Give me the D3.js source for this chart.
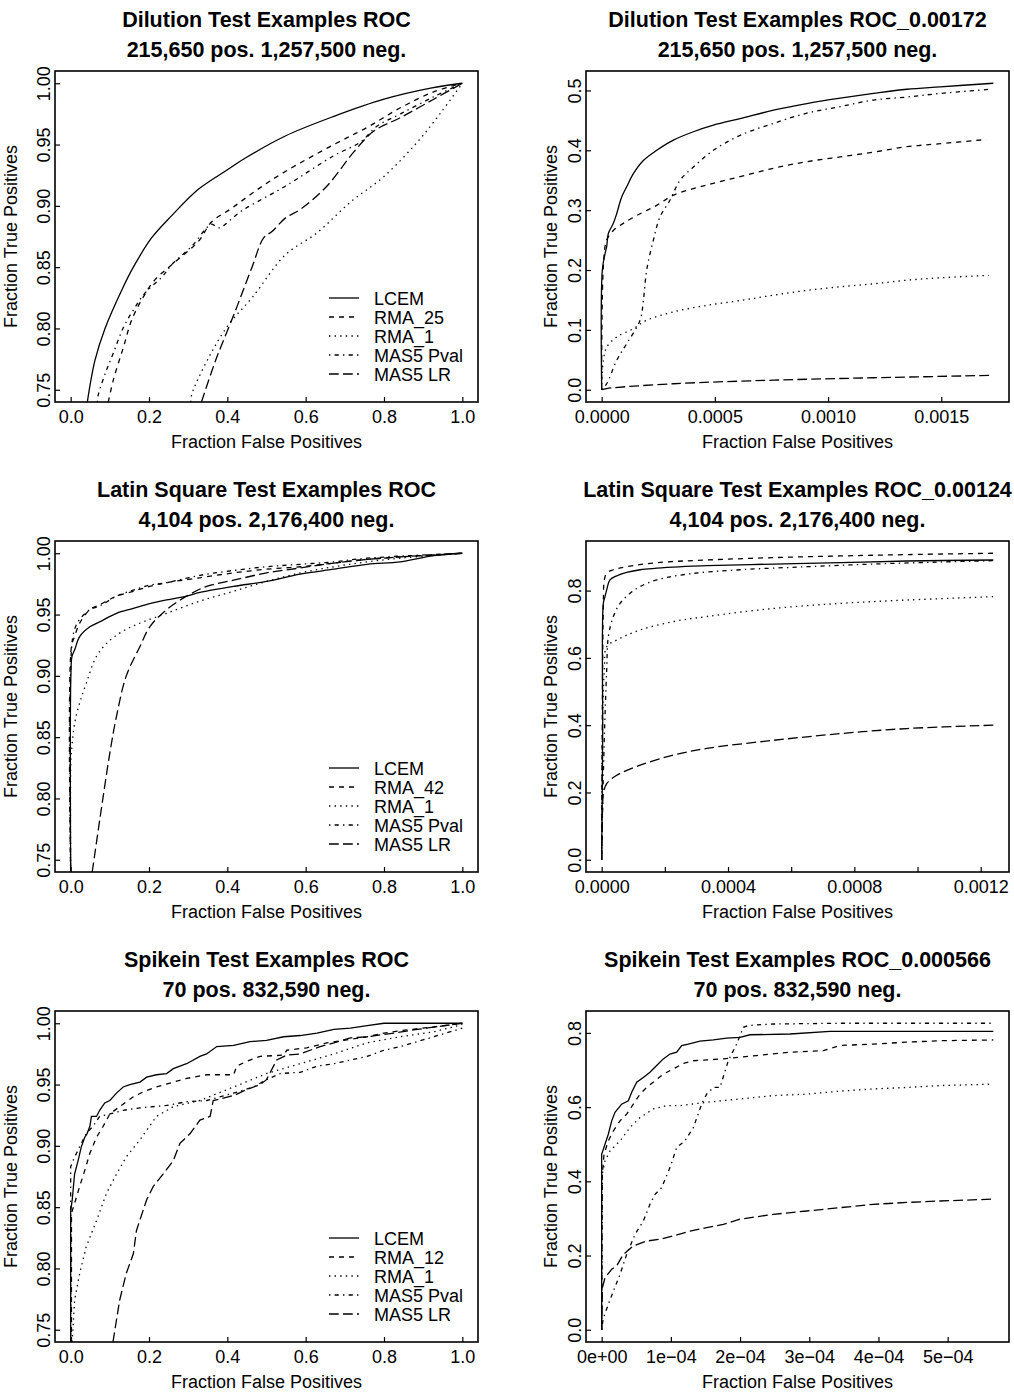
<!DOCTYPE html>
<html>
<head>
<meta charset="utf-8">
<script src="https://cdn.jsdelivr.net/npm/d3@7"></script>
<style>
  body { margin: 0; background: #fff; }
  svg { font-family: "Liberation Sans", Arial, Helvetica, sans-serif; }
</style>
</head>
<body>
<div id="chart"></div>
<script>
// ---- data: [false positive fraction, true positive fraction] ----

// Dilution, full range
var dilLCEM = [[0.0425,0.74],[0.062,0.774],[0.0877,0.80],[0.13,0.831],[0.16,0.85],[0.207,0.874],[0.258,0.892],[0.326,0.9135],[0.403,0.93],[0.446,0.939],[0.548,0.957],[0.672,0.973],[0.80,0.987],[0.919,0.996],[1,1]];
var dilRMA = [[0.096,0.74],[0.109,0.758],[0.135,0.785],[0.156,0.807],[0.186,0.826],[0.216,0.84],[0.258,0.852],[0.326,0.871],[0.36,0.887],[0.411,0.898],[0.471,0.912],[0.548,0.928],[0.672,0.95],[0.757,0.964],[0.842,0.98],[0.927,0.993],[1,1]];
var dilRMA1 = [[0.307,0.74],[0.309,0.746],[0.352,0.776],[0.403,0.803],[0.463,0.825],[0.548,0.86],[0.629,0.878],[0.714,0.903],[0.8,0.924],[0.885,0.952],[0.945,0.976],[1,1]];
var dilPval = [[0.068,0.74],[0.0706,0.746],[0.088,0.763],[0.109,0.78],[0.135,0.801],[0.16,0.815],[0.19,0.829],[0.233,0.842],[0.258,0.852],[0.309,0.867],[0.36,0.885],[0.377,0.882],[0.437,0.896],[0.548,0.916],[0.672,0.941],[0.74,0.952],[0.782,0.965],[0.842,0.975],[0.927,0.989],[1,1]];
var dilLR = [[0.334,0.74],[0.369,0.773],[0.42,0.814],[0.463,0.85],[0.493,0.874],[0.514,0.879],[0.548,0.89],[0.586,0.897],[0.654,0.916],[0.723,0.944],[0.774,0.961],[0.842,0.972],[0.927,0.987],[1,1]];

// Dilution, up to 0.00172
var dilzLCEM = [[0,0],[2.9e-6,0.20],[1.47e-5,0.227],[2.21e-5,0.239],[2.95e-5,0.261],[5.16e-5,0.278],[6.63e-5,0.294],[8.84e-5,0.322],[1.105e-4,0.339],[1.4e-4,0.361],[1.842e-4,0.383],[2.431e-4,0.40],[3.168e-4,0.417],[4.052e-4,0.431],[4.936e-4,0.442],[6.115e-4,0.453],[7.589e-4,0.467],[9.062e-4,0.478],[1.0536e-3,0.487],[1.2009e-3,0.495],[1.3483e-3,0.502],[1.4956e-3,0.506],[1.73e-3,0.512]];
var dilzRMA = [[0,0],[7.4e-6,0.205],[2.21e-5,0.25],[5.16e-5,0.266],[9.58e-5,0.278],[1.695e-4,0.294],[2.431e-4,0.308],[3.168e-4,0.325],[4.642e-4,0.342],[6.115e-4,0.356],[7.589e-4,0.37],[9.062e-4,0.381],[1.0536e-3,0.389],[1.2009e-3,0.397],[1.3483e-3,0.406],[1.4956e-3,0.411],[1.70e-3,0.418]];
var dilzRMA1 = [[0,0],[7.4e-6,0.049],[2.21e-5,0.071],[6.63e-5,0.088],[1.4e-4,0.102],[1.989e-4,0.116],[3.168e-4,0.13],[4.642e-4,0.141],[6.115e-4,0.149],[7.589e-4,0.158],[9.062e-4,0.166],[1.0536e-3,0.172],[1.2009e-3,0.177],[1.3483e-3,0.183],[1.4956e-3,0.187],[1.71e-3,0.191]];
var dilzPval = [[0,0],[2.21e-5,0.01],[6.63e-5,0.049],[1.105e-4,0.077],[1.695e-4,0.116],[1.842e-4,0.149],[1.989e-4,0.2],[2.284e-4,0.25],[2.579e-4,0.289],[3.021e-4,0.317],[3.463e-4,0.35],[4.052e-4,0.372],[4.936e-4,0.40],[6.115e-4,0.425],[7.589e-4,0.445],[9.062e-4,0.462],[1.0536e-3,0.473],[1.2009e-3,0.484],[1.3483e-3,0.489],[1.4956e-3,0.495],[1.72e-3,0.502]];
var dilzLR = [[0,0],[2.21e-5,0.002],[3.168e-4,0.01],[7.589e-4,0.016],[1.2009e-3,0.02],[1.73e-3,0.024]];

// Latin square, full range
var latLCEM = [[0,0.74],[0.0005,0.90],[0.0034,0.916],[0.01,0.921],[0.023,0.932],[0.049,0.94],[0.074,0.944],[0.117,0.951],[0.16,0.955],[0.202,0.959],[0.245,0.962],[0.296,0.965],[0.33,0.968],[0.416,0.973],[0.5,0.977],[0.586,0.983],[0.672,0.987],[0.757,0.991],[0.842,0.993],[0.927,0.998],[1,1]];
var latRMA = [[0,0.74],[0.002,0.924],[0.01,0.932],[0.023,0.943],[0.049,0.954],[0.074,0.958],[0.117,0.965],[0.16,0.969],[0.202,0.973],[0.245,0.976],[0.33,0.98],[0.416,0.984],[0.5,0.987],[0.586,0.989],[0.672,0.992],[0.757,0.995],[0.842,0.997],[1,1]];
var latRMA1 = [[0,0.74],[0.0005,0.83],[0.004,0.845],[0.01,0.861],[0.023,0.878],[0.04,0.894],[0.066,0.916],[0.1,0.929],[0.142,0.938],[0.185,0.944],[0.245,0.951],[0.33,0.961],[0.416,0.969],[0.5,0.977],[0.586,0.984],[0.672,0.989],[0.757,0.993],[0.842,0.996],[1,1]];
var latPval = [[0,0.74],[0.002,0.921],[0.01,0.938],[0.023,0.946],[0.049,0.954],[0.074,0.957],[0.117,0.965],[0.16,0.97],[0.202,0.974],[0.245,0.976],[0.33,0.982],[0.416,0.986],[0.5,0.989],[0.586,0.991],[0.672,0.993],[0.757,0.996],[1,1]];
var latLR = [[0.055,0.74],[0.074,0.782],[0.1,0.837],[0.117,0.867],[0.142,0.9],[0.177,0.924],[0.202,0.94],[0.245,0.954],[0.296,0.965],[0.347,0.973],[0.416,0.978],[0.5,0.984],[0.586,0.988],[0.672,0.992],[0.757,0.995],[0.842,0.997],[1,1]];

// Latin square, up to 0.00124
var latzLCEM = [[0,0],[3.2e-6,0.365],[5.3e-6,0.762],[1.06e-5,0.782],[1.59e-5,0.802],[2.64e-5,0.832],[4.76e-5,0.844],[7.93e-5,0.854],[1.216e-4,0.862],[2.273e-4,0.87],[3.33e-4,0.874],[5.445e-4,0.879],[7.56e-4,0.883],[9.674e-4,0.888],[1.24e-3,0.891]];
var latzRMA = [[0,0],[5.3e-6,0.762],[8.5e-6,0.832],[1.59e-5,0.852],[3.7e-5,0.862],[7.93e-5,0.871],[1.745e-4,0.883],[3.33e-4,0.891],[5.445e-4,0.898],[7.56e-4,0.903],[9.674e-4,0.907],[1.24e-3,0.911]];
var latzRMA1 = [[0,0],[2.1e-6,0.365],[8.5e-6,0.564],[1.59e-5,0.633],[4.76e-5,0.653],[1.216e-4,0.683],[2.273e-4,0.708],[3.33e-4,0.723],[5.445e-4,0.747],[7.56e-4,0.762],[9.674e-4,0.772],[1.24e-3,0.782]];
var latzPval = [[0,0],[3.2e-6,0.167],[8.5e-6,0.365],[1.59e-5,0.564],[2.11e-5,0.663],[3.7e-5,0.723],[5.82e-5,0.762],[8.99e-5,0.792],[1.216e-4,0.812],[1.745e-4,0.832],[2.802e-4,0.85],[4.388e-4,0.862],[6.502e-4,0.871],[8.617e-4,0.879],[1.0732e-3,0.885],[1.24e-3,0.889]];
var latzLR = [[0,0],[3.2e-6,0.167],[5.3e-6,0.197],[1.59e-5,0.226],[4.76e-5,0.251],[1.216e-4,0.281],[2.273e-4,0.311],[3.33e-4,0.331],[5.445e-4,0.355],[7.56e-4,0.375],[9.674e-4,0.39],[1.24e-3,0.40]];

// Spikein, full range
var spkLCEM = [[0,0.74],[0,0.847],[0.004,0.856],[0.01,0.877],[0.019,0.888],[0.027,0.899],[0.036,0.907],[0.042,0.91],[0.049,0.916],[0.053,0.924],[0.066,0.924],[0.074,0.929],[0.087,0.935],[0.1,0.937],[0.117,0.943],[0.134,0.948],[0.151,0.95],[0.177,0.952],[0.194,0.956],[0.219,0.958],[0.245,0.959],[0.262,0.963],[0.296,0.967],[0.33,0.973],[0.347,0.975],[0.373,0.981],[0.416,0.982],[0.458,0.985],[0.5,0.986],[0.544,0.989],[0.586,0.99],[0.629,0.992],[0.672,0.995],[0.714,0.996],[0.757,0.998],[0.8,1],[1,1]];
var spkRMA = [[0.002,0.74],[0.002,0.845],[0.01,0.853],[0.023,0.867],[0.036,0.88],[0.049,0.894],[0.066,0.907],[0.083,0.916],[0.1,0.926],[0.125,0.932],[0.16,0.94],[0.185,0.944],[0.219,0.948],[0.262,0.952],[0.296,0.955],[0.347,0.958],[0.416,0.958],[0.424,0.965],[0.45,0.969],[0.484,0.973],[0.544,0.974],[0.552,0.978],[0.603,0.98],[0.654,0.984],[0.697,0.986],[0.757,0.989],[0.8,0.992],[0.842,0.994],[0.927,0.997],[1,1]];
var spkRMA1 = [[0.004,0.74],[0.01,0.774],[0.023,0.796],[0.04,0.818],[0.066,0.839],[0.091,0.861],[0.117,0.877],[0.142,0.891],[0.177,0.905],[0.219,0.924],[0.262,0.932],[0.33,0.937],[0.416,0.948],[0.5,0.959],[0.586,0.967],[0.672,0.975],[0.757,0.984],[0.842,0.989],[0.927,0.993],[1,0.999]];
var spkPval = [[0,0.74],[0,0.883],[0.006,0.888],[0.015,0.894],[0.027,0.902],[0.04,0.91],[0.057,0.916],[0.074,0.924],[0.1,0.926],[0.134,0.929],[0.177,0.931],[0.245,0.933],[0.296,0.936],[0.347,0.937],[0.416,0.943],[0.467,0.948],[0.5,0.954],[0.535,0.959],[0.586,0.96],[0.629,0.965],[0.672,0.967],[0.714,0.97],[0.757,0.973],[0.8,0.978],[0.842,0.981],[0.885,0.985],[0.927,0.989],[1,0.996]];
var spkLR = [[0.108,0.74],[0.125,0.774],[0.142,0.796],[0.16,0.812],[0.168,0.831],[0.194,0.856],[0.211,0.867],[0.236,0.877],[0.262,0.888],[0.279,0.902],[0.305,0.91],[0.33,0.921],[0.356,0.924],[0.364,0.937],[0.416,0.941],[0.45,0.946],[0.484,0.95],[0.5,0.954],[0.526,0.97],[0.552,0.974],[0.586,0.975],[0.637,0.981],[0.672,0.984],[0.714,0.988],[0.757,0.989],[0.825,0.992],[0.885,0.995],[1,1]];

// Spikein, up to 0.000566
var spkzLCEM = [[0,0],[0,0.473],[4.8e-6,0.5],[9.6e-6,0.527],[1.45e-5,0.563],[1.93e-5,0.586],[2.89e-5,0.608],[3.85e-5,0.617],[4.34e-5,0.64],[5.06e-5,0.667],[6.02e-5,0.68],[6.98e-5,0.694],[7.95e-5,0.712],[8.91e-5,0.73],[9.87e-5,0.743],[1.084e-4,0.748],[1.156e-4,0.766],[1.252e-4,0.77],[1.421e-4,0.778],[1.614e-4,0.781],[1.806e-4,0.786],[1.999e-4,0.788],[2.144e-4,0.795],[2.722e-4,0.797],[3.3e-4,0.804],[5.66e-4,0.804]];
var spkzRMA = [[0,0],[1e-6,0.42],[3.4e-6,0.473],[9.6e-6,0.509],[1.69e-5,0.536],[2.65e-5,0.563],[3.61e-5,0.581],[4.58e-5,0.608],[5.54e-5,0.635],[6.5e-5,0.653],[7.71e-5,0.671],[8.91e-5,0.689],[1.036e-4,0.703],[1.18e-4,0.718],[1.325e-4,0.725],[1.758e-4,0.73],[2.24e-4,0.739],[2.722e-4,0.748],[3.203e-4,0.752],[3.444e-4,0.766],[3.926e-4,0.77],[4.408e-4,0.775],[4.889e-4,0.779],[5.66e-4,0.781]];
var spkzRMA1 = [[0,0],[1e-6,0.42],[4.8e-6,0.455],[1.2e-5,0.482],[2.65e-5,0.509],[4.09e-5,0.545],[5.54e-5,0.572],[7.47e-5,0.595],[9.39e-5,0.604],[1.132e-4,0.604],[1.517e-4,0.613],[1.999e-4,0.622],[2.481e-4,0.631],[2.962e-4,0.635],[3.444e-4,0.643],[3.926e-4,0.649],[4.408e-4,0.653],[4.889e-4,0.658],[5.66e-4,0.662]];
var spkzPval = [[0,0],[2.4e-6,0.032],[9.6e-6,0.068],[1.69e-5,0.104],[2.65e-5,0.149],[3.61e-5,0.203],[4.82e-5,0.257],[6.02e-5,0.293],[6.98e-5,0.338],[7.71e-5,0.365],[8.67e-5,0.383],[9.87e-5,0.437],[1.084e-4,0.491],[1.204e-4,0.509],[1.325e-4,0.545],[1.445e-4,0.608],[1.517e-4,0.635],[1.614e-4,0.653],[1.71e-4,0.653],[1.83e-4,0.725],[1.951e-4,0.77],[2.047e-4,0.815],[2.119e-4,0.82],[2.481e-4,0.824],[3.444e-4,0.826],[5.66e-4,0.826]];
var spkzLR = [[0,0],[1e-6,0.113],[4.8e-6,0.14],[1.45e-5,0.163],[2.17e-5,0.172],[3.13e-5,0.203],[4.58e-5,0.226],[6.5e-5,0.239],[8.43e-5,0.244],[1.036e-4,0.253],[1.277e-4,0.266],[1.517e-4,0.275],[1.758e-4,0.284],[1.999e-4,0.298],[2.481e-4,0.311],[2.962e-4,0.32],[3.444e-4,0.329],[3.926e-4,0.338],[4.408e-4,0.343],[4.889e-4,0.347],[5.66e-4,0.352]];

// ---- titles, legend labels, axis limits and ticks ----
var titles = [
  ["Dilution Test Examples ROC", "215,650 pos. 1,257,500 neg."],
  ["Dilution Test Examples ROC_0.00172", "215,650 pos. 1,257,500 neg."],
  ["Latin Square Test Examples ROC", "4,104 pos. 2,176,400 neg."],
  ["Latin Square Test Examples ROC_0.00124", "4,104 pos. 2,176,400 neg."],
  ["Spikein Test Examples ROC", "70 pos. 832,590 neg."],
  ["Spikein Test Examples ROC_0.000566", "70 pos. 832,590 neg."]
];
var legendDil = ["LCEM", "RMA_25", "RMA_1", "MAS5 Pval", "MAS5 LR"];
var legendLat = ["LCEM", "RMA_42", "RMA_1", "MAS5 Pval", "MAS5 LR"];
var legendSpk = ["LCEM", "RMA_12", "RMA_1", "MAS5 Pval", "MAS5 LR"];

var xlimFull = [0, 1], ylimFull = [0.75, 1];
var xlimDilz = [0, 0.00173], ylimDilz = [0, 0.512];
var xlimLatz = [0, 0.00124], ylimLatz = [0, 0.911];
var xlimSpkz = [0, 0.000566], ylimSpkz = [0, 0.826];

var xticksFull = [0, 0.2, 0.4, 0.6, 0.8, 1.0];
var yticksFull = [0.75, 0.80, 0.85, 0.90, 0.95, 1.00];
var xticksDilz = [0, 0.0005, 0.0010, 0.0015];
var yticksDilz = [0, 0.1, 0.2, 0.3, 0.4, 0.5];
var xticksLatz = [0, 0.0002, 0.0004, 0.0006, 0.0008, 0.0010, 0.0012];
var xlabelsLatz = ["0.0000", "", "0.0004", "", "0.0008", "", "0.0012"];
var yticksZoom = [0, 0.2, 0.4, 0.6, 0.8];
var xticksSpkz = [0, 1e-4, 2e-4, 3e-4, 4e-4, 5e-4];
var xlabelsSpkz = ["0e+00", "1e\u221204", "2e\u221204", "3e\u221204", "4e\u221204", "5e\u221204"];

// line types as in R: solid, dashed, dotted, dotdash, longdash
var dashes = [null, "5,5", "1.4,4.2", "1.4,4.2,4.2,4.2", "9.8,4.2"];

var panels = [
  { col: 0, row: 0, series: [dilLCEM, dilRMA, dilRMA1, dilPval, dilLR], xlim: xlimFull, ylim: ylimFull, smooth: true,
    xticks: xticksFull, xfmt: d3.format(".1f"), yticks: yticksFull, yfmt: d3.format(".2f"), legend: legendDil },
  { col: 1, row: 0, series: [dilzLCEM, dilzRMA, dilzRMA1, dilzPval, dilzLR], xlim: xlimDilz, ylim: ylimDilz, smooth: true,
    xticks: xticksDilz, xfmt: d3.format(".4f"), yticks: yticksDilz, yfmt: d3.format(".1f") },
  { col: 0, row: 1, series: [latLCEM, latRMA, latRMA1, latPval, latLR], xlim: xlimFull, ylim: ylimFull, smooth: true,
    xticks: xticksFull, xfmt: d3.format(".1f"), yticks: yticksFull, yfmt: d3.format(".2f"), legend: legendLat },
  { col: 1, row: 1, series: [latzLCEM, latzRMA, latzRMA1, latzPval, latzLR], xlim: xlimLatz, ylim: ylimLatz, smooth: true,
    xticks: xticksLatz, xfmt: (d, i) => xlabelsLatz[i], yticks: yticksZoom, yfmt: d3.format(".1f") },
  { col: 0, row: 2, series: [spkLCEM, spkRMA, spkRMA1, spkPval, spkLR], xlim: xlimFull, ylim: ylimFull, smooth: false,
    xticks: xticksFull, xfmt: d3.format(".1f"), yticks: yticksFull, yfmt: d3.format(".2f"), legend: legendSpk },
  { col: 1, row: 2, series: [spkzLCEM, spkzRMA, spkzRMA1, spkzPval, spkzLR], xlim: xlimSpkz, ylim: ylimSpkz, smooth: false,
    xticks: xticksSpkz, xfmt: (d, i) => xlabelsSpkz[i], yticks: yticksZoom, yfmt: d3.format(".1f") }
];

var width = 1014, height = 1393;
var boxW = 423, boxH = 331;
var boxLeft = [55, 586], boxTop = [71, 541, 1011];
var ytitleOffset = [38, 29];

var svg = d3.select("#chart").append("svg")
  .attr("width", width)
  .attr("height", height);

// R pads the data range by 4% on each side
function padded(lim) {
  var r = lim[1] - lim[0];
  return [lim[0] - 0.04 * r, lim[1] + 0.04 * r];
}

panels.forEach(function (p, k) {
  var left = boxLeft[p.col], top = boxTop[p.row];
  var right = left + boxW, bottom = top + boxH;
  var cx = left + boxW / 2;

  var x = d3.scaleLinear().domain(padded(p.xlim)).range([left, right]);
  var y = d3.scaleLinear().domain(padded(p.ylim)).range([bottom, top]);

  var g = svg.append("g");

  // titles
  g.append("text").attr("x", cx).attr("y", top - 44)
    .attr("text-anchor", "middle").style("font-size", "21.5px").style("font-weight", "bold")
    .text(titles[k][0]);
  g.append("text").attr("x", cx).attr("y", top - 14)
    .attr("text-anchor", "middle").style("font-size", "21.5px").style("font-weight", "bold")
    .text(titles[k][1]);

  // clip to plot region
  g.append("clipPath").attr("id", "clip" + k)
    .append("rect").attr("x", left).attr("y", top).attr("width", boxW).attr("height", boxH);

  var line = d3.line()
    .x((d) => x(d[0]))
    .y((d) => y(d[1]))
    .curve(p.smooth ? d3.curveCatmullRom.alpha(0.5) : d3.curveLinear);

  p.series.forEach(function (s, i) {
    g.append("path")
      .datum(s)
      .attr("clip-path", "url(#clip" + k + ")")
      .attr("fill", "none")
      .attr("stroke", "#000")
      .attr("stroke-width", 1.3)
      .attr("stroke-dasharray", dashes[i])
      .attr("d", line);
  });

  // x axis, ticks point into the plot
  var xAxis = g.append("g")
    .attr("transform", `translate(0,${bottom})`)
    .call(d3.axisBottom(x).tickValues(p.xticks).tickFormat(p.xfmt).tickSize(-5).tickSizeOuter(0));
  xAxis.select(".domain").remove();
  xAxis.selectAll("line").attr("stroke-width", 1.2);
  xAxis.selectAll("text").style("font-size", "18px").attr("fill", "#000")
    .attr("dy", null).attr("y", 21);

  // y axis, labels parallel to axis
  var yAxis = g.append("g")
    .attr("transform", `translate(${left},0)`)
    .call(d3.axisLeft(y).tickValues(p.yticks).tickFormat(p.yfmt).tickSize(-5).tickSizeOuter(0));
  yAxis.select(".domain").remove();
  yAxis.selectAll("line").attr("stroke-width", 1.2);
  yAxis.selectAll("text").style("font-size", "18px").attr("fill", "#000")
    .attr("text-anchor", "middle").attr("transform", "rotate(-90)")
    .attr("x", 0).attr("y", -5).attr("dy", null);

  // box
  g.append("rect").attr("x", left).attr("y", top).attr("width", boxW).attr("height", boxH)
    .attr("fill", "none").attr("stroke", "#000").attr("stroke-width", 1.6);

  // axis titles
  g.append("text").attr("x", cx).attr("y", bottom + 46)
    .attr("text-anchor", "middle").style("font-size", "18px")
    .text("Fraction False Positives");
  g.append("text")
    .attr("transform", `translate(${left - ytitleOffset[p.col]},${top + boxH / 2}) rotate(-90)`)
    .attr("text-anchor", "middle").style("font-size", "18px")
    .text("Fraction True Positives");

  // legend
  if (p.legend) {
    var lg = g.append("g").attr("transform", `translate(${left + 274},${top + 227})`);
    p.legend.forEach(function (name, i) {
      lg.append("line")
        .attr("x1", 0).attr("x2", 30).attr("y1", i * 19).attr("y2", i * 19)
        .attr("stroke", "#000").attr("stroke-width", 1.3)
        .attr("stroke-dasharray", dashes[i]);
      lg.append("text").attr("x", 45).attr("y", i * 19 + 6.5)
        .style("font-size", "18px").text(name);
    });
  }
});
</script>
</body>
</html>
